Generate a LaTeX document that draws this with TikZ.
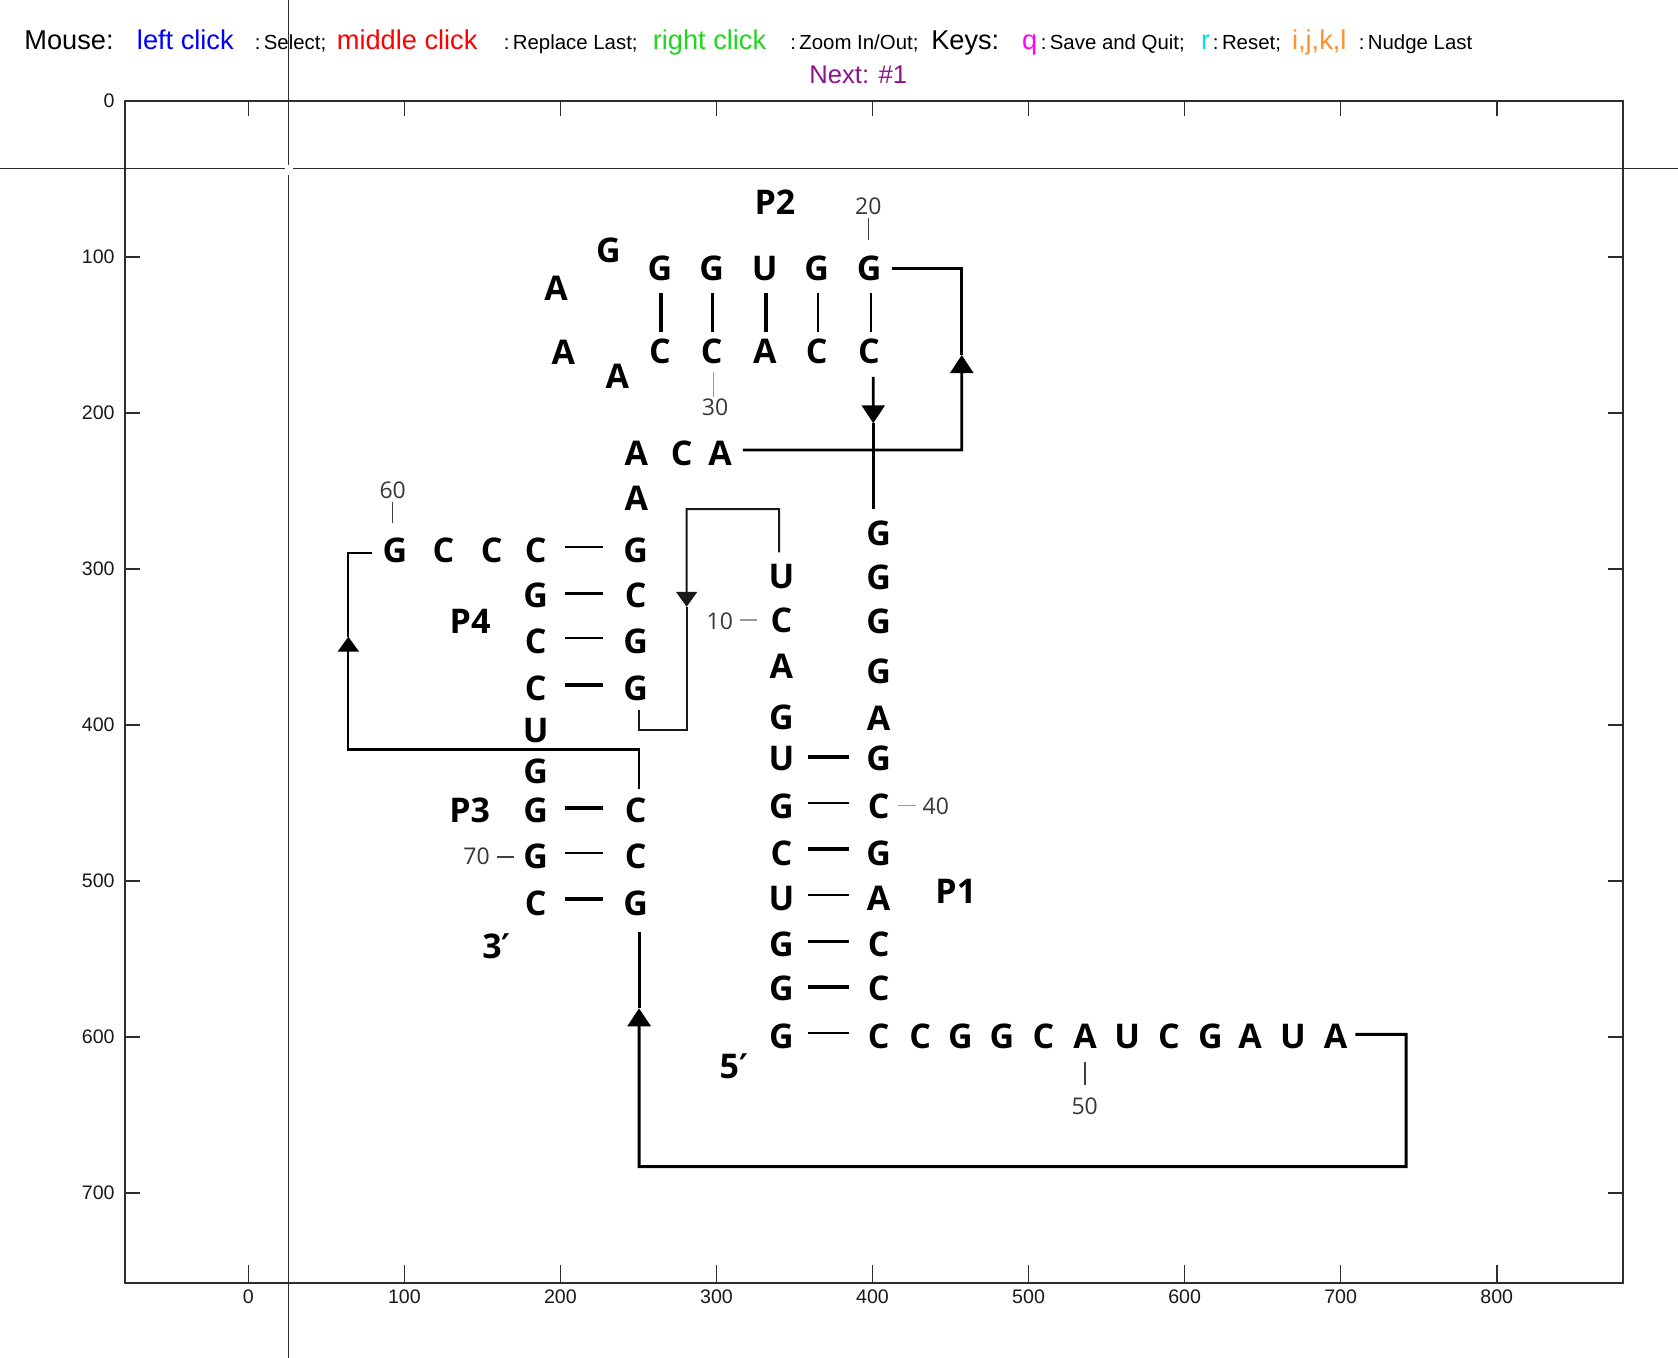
\documentclass[tikz,border=0pt]{standalone}
\usepackage{fontspec}
\setmainfont{Liberation Sans}
\newfontfamily\rnafont{Open Sans}
\newfontfamily\primefont{DejaVu Sans}
\usetikzlibrary{arrows.meta,calc}
\definecolor{cblue}{RGB}{0,0,255}
\definecolor{cred}{RGB}{255,0,0}
\definecolor{cgreen}{RGB}{30,215,30}
\definecolor{cmag}{RGB}{255,0,255}
\definecolor{ccyan}{RGB}{0,225,240}
\definecolor{corange}{RGB}{255,145,40}
\definecolor{cpurple}{RGB}{140,20,140}
\definecolor{numgray}{RGB}{55,55,55}
\definecolor{axgray}{RGB}{45,45,45}
\newcommand{\prm}{{\primefont\bfseries ′}}
\begin{document}
\begin{tikzpicture}[x=0.78025pt,y=-0.78025pt,
  hbig/.style={font=\fontsize{13.6}{14}\selectfont, inner sep=0pt, anchor=base west},
  hsmall/.style={font=\fontsize{10.2}{11}\selectfont, inner sep=0pt, anchor=base west},
  nt/.style={font=\rnafont\bfseries\fontsize{17}{17}\selectfont, inner sep=0pt, anchor=center},
  num/.style={font=\rnafont\fontsize{11.5}{11.5}\selectfont, text=numgray, inner sep=0pt},
  ntick/.style={draw=black!75, line width=0.75pt},
  nticklight/.style={draw=black!40, line width=0.7pt},
  bthick/.style={line width=1.8pt},
  bmid/.style={line width=1.4pt},
  bthin/.style={line width=1.1pt},
  connbig/.style={line width=1.5pt},
  conn/.style={line width=1.35pt},
  connleft/.style={line width=1.15pt},
  connsmall/.style={line width=1.0pt, draw=black!90},
  arrtip/.style={-{Triangle[width=11.5pt,length=9pt]}},
  arrtipsmall/.style={-{Triangle[width=10.5pt,length=7.5pt]}},
  axframe/.style={draw=axgray, line width=1.1pt},
  axtick/.style={draw=axgray, line width=0.8pt},
  ticklbl/.style={font=\fontsize{9.8}{10}\selectfont, text=black!90, inner sep=0pt},
  xhair/.style={draw=axgray, line width=0.75pt}]
\useasboundingbox[fill=white] (-159.12,-64.53) rectangle (916.18,805.67);

% ---------------- header ----------------
\node[hbig] (hmouse) at (-143.7,-32.5) {Mouse:};
\node[hbig,text=cblue] (hleft) at (-71.6,-32.5) {left click};
\node[hsmall] (hsel) at (3.9,-32.5) {:\,Select;};
\node[hbig,text=cred] (hmid) at (56.5,-32.5) {middle click};
\node[hsmall] (hrep) at (163.5,-32.5) {:\,Replace Last;};
\node[hbig,text=cgreen] (hright) at (259.0,-32.5) {right click};
\node[hsmall] (hzoom) at (347.1,-32.5) {:\,Zoom In/Out;};
\node[hbig] (hkeys) at (437.4,-32.5) {Keys:};
\node[hbig,text=cmag] (hq) at (495.6,-32.5) {q};
\node[hsmall] (hsave) at (507.6,-32.5) {:\,Save and Quit;};
\node[hbig,text=ccyan] (hr) at (610.4,-32.5) {r};
\node[hsmall] (hreset) at (617.9,-32.5) {:\,Reset;};
\node[hbig,text=corange] (hijkl) at (668.6,-32.5) {i,j,k,l};
\node[hsmall] (hnudge) at (711.4,-32.5) {:\,Nudge Last};
\node[font=\fontsize{12.8}{13}\selectfont, inner sep=0pt, anchor=base west, text=cpurple] (hnext) at (359.3,-11.1) {Next: \#1};

% ---------------- axes ----------------
\draw[axframe] (-78.9,0) rectangle (880.7,757.4);
\foreach \xv in {0,100,...,800}{
  \draw[axtick] (\xv,757.4) -- (\xv,746.4);
  \draw[axtick] (\xv,0) -- (\xv,9.5);
  \node[ticklbl] at (\xv,766.6) {\xv};
}
\foreach \yv in {100,200,...,700}{
  \draw[axtick] (-78.9,\yv) -- (-69.3,\yv);
  \draw[axtick] (880.7,\yv) -- (871.1,\yv);
  \node[ticklbl,anchor=east] at (-85.4,\yv) {\yv};
}
\node[ticklbl,anchor=east] at (-85.4,0) {0};

% ---------------- P2 hairpin ----------------
\node[nt] (t1) at (263.8,107.4) {G};
\node[nt] (t2) at (297.0,107.4) {G};
\node[nt] (t3) at (331.0,107.4) {U};
\node[nt] (t4) at (364.2,107.4) {G};
\node[nt] (t5) at (397.8,107.4) {G};
\node[nt] (b1) at (263.8,160.8) {C};
\node[nt] (b2) at (297.0,160.8) {C};
\node[nt] (b3) at (331.0,160.8) {A};
\node[nt] (b4) at (364.2,160.8) {C};
\node[nt] (b5) at (397.8,160.8) {C};
\draw[bthick] ($(t1)+(0.7,16)$) -- ($(b1)+(0.7,-12.8)$);
\draw[bmid]   ($(t2)+(0.7,16)$) -- ($(b2)+(0.7,-12.8)$);
\draw[bthick] ($(t3)+(0.7,16)$) -- ($(b3)+(0.7,-12.8)$);
\draw[bthin]  ($(t4)+(0.7,16)$) -- ($(b4)+(0.7,-12.8)$);
\draw[bmid]   ($(t5)+(1.2,16)$) -- ($(b5)+(1.2,-12.8)$);
\node[nt] (lg)  at (230.7,95.7)  {G};
\node[nt] (la1) at (197.2,120.2) {A};
\node[nt] (la2) at (201.9,161.5) {A};
\node[nt] (la3) at (236.5,176.9) {A};
\node[nt] (p2) at (337.5,65.1) {P2};
\node[num] (n20) at (397.3,67.5) {20};
\draw[ntick] ($(n20)+(0,7.9)$) -- ($(n20)+(0,21.8)$);
\node[num] (n30) at (299.1,196.5) {30};
\draw[nticklight] ($(n30)+(-1.1,-22.8)$) -- ($(n30)+(-1.1,-6.8)$);

% ---------------- ACA / junction ----------------
\node[nt] (aca1) at (248.6,226.0) {A};
\node[nt] (aca2) at (277.7,226.0) {C};
\node[nt] (aca3) at (302.3,226.0) {A};
\node[nt] (aa)   at (248.6,254.8) {A};

% ---------------- P4 ----------------
\node[nt] (g60) at (94.0,288.0) {G};
\node[nt] (c61) at (125.0,288.0) {C};
\node[nt] (c62) at (156.0,288.0) {C};
\node[nt] (q1l) at (184.2,288.0) {C};
\node[nt] (q1r) at (248.3,288.0) {G};
\node[nt] (q2l) at (184.2,316.8) {G};
\node[nt] (q2r) at (248.3,316.8) {C};
\node[nt] (q3l) at (184.2,346.7) {C};
\node[nt] (q3r) at (248.3,346.7) {G};
\node[nt] (q4l) at (184.2,376.5) {C};
\node[nt] (q4r) at (248.3,376.5) {G};
\node[nt] (qu)  at (184.2,403.3) {U};
\draw[bthin]  ($(q1l)+(18.7,-1.8)$) -- ($(q1r)+(-20.8,-1.8)$);
\draw[bthick] ($(q2l)+(18.7,-1.1)$) -- ($(q2r)+(-20.8,-1.1)$);
\draw[bthin]  ($(q3l)+(18.7,-2.2)$) -- ($(q3r)+(-20.8,-2.2)$);
\draw[bthick] ($(q4l)+(18.7,-2.1)$) -- ($(q4r)+(-20.8,-2.1)$);
\node[nt] (p4) at (142.1,333.9) {P4};
\node[num] (n60) at (92.5,249.5) {60};
\draw[ntick] ($(n60)+(0,7.5)$) -- ($(n60)+(0,21.3)$);

% ---------------- P3 ----------------
\node[nt] (g3t) at (184.2,430.0) {G};
\node[nt] (r1l) at (184.2,454.5) {G};
\node[nt] (r1r) at (248.3,454.5) {C};
\node[nt] (r2l) at (184.2,484.5) {G};
\node[nt] (r2r) at (248.3,484.5) {C};
\node[nt] (r3l) at (184.2,514.3) {C};
\node[nt] (r3r) at (248.3,514.3) {G};
\draw[bthick] ($(r1l)+(18.6,-1.4)$) -- ($(r1r)+(-21.1,-1.4)$);
\draw[bthin]  ($(r2l)+(18.6,-2.2)$) -- ($(r2r)+(-21.1,-2.2)$);
\draw[bthick] ($(r3l)+(18.6,-2.7)$) -- ($(r3r)+(-21.1,-2.7)$);
\node[nt] (p3) at (141.9,454.5) {P3};
\node[num] (n70) at (146.3,484.5) {70};
\draw[ntick] ($(n70)+(12.8,0)$) -- ($(n70)+(23.8,0)$);
\node[nt] (e3) at (159.1,542.1) {3\prm};

% ---------------- P1 ----------------
\node[nt] (s11) at (341.6,305.0) {U};
\node[nt] (s10) at (341.6,332.8) {C};
\node[nt] (s9)  at (341.6,362.7) {A};
\node[nt] (s8)  at (341.6,395.1) {G};
\node[nt] (s7)  at (341.6,421.4) {U};
\node[nt] (s6)  at (341.6,452.4) {G};
\node[nt] (s5)  at (341.6,482.3) {C};
\node[nt] (s4)  at (341.6,511.1) {U};
\node[nt] (s3)  at (341.6,540.4) {G};
\node[nt] (s2)  at (341.6,568.8) {G};
\node[nt] (s1)  at (341.6,599.5) {G};
\node[nt] (k1)  at (403.9,277.2) {G};
\node[nt] (k2)  at (403.9,305.7) {G};
\node[nt] (k3)  at (403.9,333.4) {G};
\node[nt] (k4)  at (403.9,365.5) {G};
\node[nt] (k5)  at (403.9,395.8) {A};
\node[nt] (k6)  at (403.9,421.4) {G};
\node[nt] (k7)  at (403.9,452.4) {C};
\node[nt] (k8)  at (403.9,482.3) {G};
\node[nt] (k9)  at (403.9,511.1) {A};
\node[nt] (k10) at (403.9,540.4) {C};
\node[nt] (k11) at (403.9,568.8) {C};
\node[nt] (k12) at (403.9,599.5) {C};
\draw[bthick] ($(s7)+(17.3,-1)$) -- ($(k6)+(-19.2,-1)$);
\draw[bthin]  ($(s6)+(17.3,-2.2)$) -- ($(k7)+(-19.2,-2.2)$);
\draw[bthick] ($(s5)+(17.3,-2.8)$) -- ($(k8)+(-19.2,-2.8)$);
\draw[bthin]  ($(s4)+(17.3,-2.1)$) -- ($(k9)+(-19.2,-2.1)$);
\draw[bmid]   ($(s3)+(17.3,-1.5)$) -- ($(k10)+(-19.2,-1.5)$);
\draw[bthick] ($(s2)+(17.3,-1)$) -- ($(k11)+(-19.2,-1)$);
\draw[bthin]  ($(s1)+(17.3,-1.9)$) -- ($(k12)+(-19.2,-1.9)$);
\node[nt] (m1)  at (430.5,599.5) {C};
\node[nt] (m2)  at (456.4,599.5) {G};
\node[nt] (m3)  at (483.0,599.5) {G};
\node[nt] (m4)  at (509.6,599.5) {C};
\node[nt] (m5)  at (536.3,599.5) {A};
\node[nt] (m6)  at (563.3,599.5) {U};
\node[nt] (m7)  at (589.9,599.5) {C};
\node[nt] (m8)  at (616.5,599.5) {G};
\node[nt] (m9)  at (642.0,599.5) {A};
\node[nt] (m10) at (669.4,599.5) {U};
\node[nt] (m11) at (696.8,599.5) {A};
\node[nt] (p1) at (453.4,506.9) {P1};
\node[nt] (e5) at (311.1,619.0) {5\prm};
\node[num] (n10) at (302.2,333.9) {10};
\draw[nticklight] ($(n10)+(13.1,-1.1)$) -- ($(n10)+(23.6,-1.1)$);
\node[num] (n40) at (440.6,452.4) {40};
\draw[nticklight] ($(n40)+(-24.0,-0.9)$) -- ($(n40)+(-12.9,-0.9)$);
\node[num] (n50) at (536.0,644.7) {50};
\draw[ntick] ($(n50)+(0.3,-28.9)$) -- ($(n50)+(0.3,-13.9)$);

% ---------------- connectors ----------------
% ACA -> top of P2 (right loop)
\coordinate (rB) at (457.2,223.8);
\coordinate (rT) at (457.2,163.0);
\coordinate (rA) at (457.2,107.4);
\draw[conn,arrtip] ($(aca3)+(14.7,-2.2)$) -- (rB) -- (rT);
\draw[conn] (rT) -- (rA) -- ($(t5)+(14.5,0)$);
% P2 C -> P1 top G
\coordinate (dT) at (400.5,206.7);
\draw[conn,arrtip] ($(b5)+(2.7,16.1)$) -- (dT);
\draw[conn] (dT) -- ($(k1)+(-3.4,-15.4)$);
% P1 U -> P4 G
\coordinate (pA) at (340.2,261.8);
\coordinate (pB) at (280.9,261.8);
\coordinate (pT) at (280.9,324.3);
\coordinate (pC) at (280.9,403.3);
\coordinate (pD) at (250.4,403.3);
\draw[connsmall,arrtipsmall] ($(s11)+(-1.4,-15.5)$) -- (pA) -- (pB) -- (pT);
\draw[connsmall] (pT) -- (pC) -- (pD) -- ($(q4r)+(2.1,14.0)$);
% P3 C -> G60 (left loop)
\coordinate (lA) at (250.4,415.8);
\coordinate (lB) at (64.1,415.8);
\coordinate (lT) at (64.1,343.5);
\coordinate (lC) at (64.1,289.7);
\draw[connleft,arrtipsmall] ($(r1r)+(2.1,-13.2)$) -- (lA) -- (lB) -- (lT);
\draw[connleft] (lT) -- (lC) -- ($(g60)+(-14.9,1.7)$);
% 3' tail A -> P3 G (bottom loop)
\coordinate (bA) at (742.0,598.3);
\coordinate (bB) at (742.0,683.1);
\coordinate (bC) at (250.4,683.1);
\coordinate (bT) at (250.4,581.6);
\draw[connbig,arrtip] ($(m11)+(12.6,-1.2)$) -- (bA) -- (bB) -- (bC) -- (bT);
\draw[connbig] (bT) -- ($(r3r)+(2.1,18.2)$);

% ---------------- crosshair ----------------
\draw[xhair] (25.9,-64.53) -- (25.9,41.2);
\draw[xhair] (25.9,47.6) -- (25.9,805.67);
\draw[xhair] (-159.12,43.6) -- (23.5,43.6);
\draw[xhair] (28.6,43.6) -- (916.18,43.6);
\end{tikzpicture}
\end{document}
